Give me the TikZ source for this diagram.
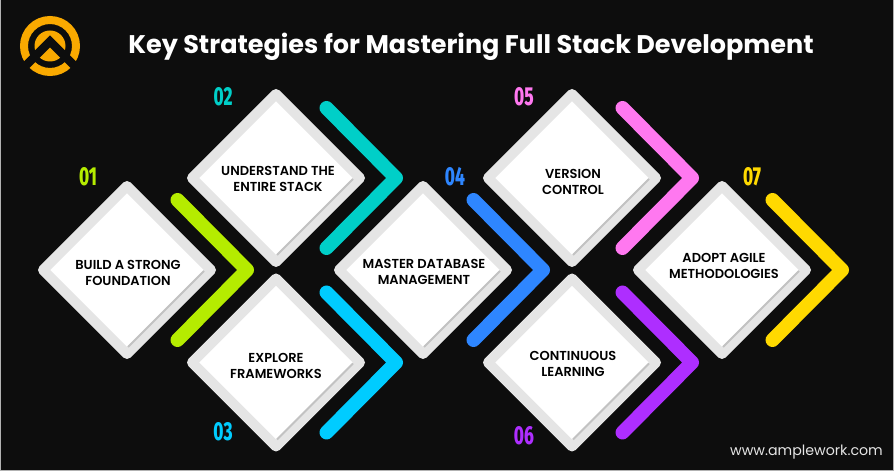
\documentclass[tikz,border=0pt]{standalone}
\usepackage{fontspec}
\setmainfont{Poppins}
\newfontfamily\cardfont{Poppins SemiBold}
\newfontfamily\numfont{Fira Sans ExtraBold}
\usetikzlibrary{shapes.geometric}
\definecolor{pagebg}{HTML}{0D0D0D}
\definecolor{cardrim}{HTML}{E5E5E5}
\definecolor{cardshade}{HTML}{C2C2C2}
\definecolor{logoamber}{HTML}{F9A900}
\definecolor{limec}{HTML}{B5EC00}
\definecolor{tealc}{HTML}{00CFC8}
\definecolor{skyc}{HTML}{00CCFF}
\definecolor{bluec}{HTML}{2E86FF}
\definecolor{pinkc}{HTML}{FF78F0}
\definecolor{purplec}{HTML}{AE2EFF}
\definecolor{yellowc}{HTML}{FFD900}
\newcommand{\chevron}[2]{\draw[chevronline,#2] ([shift={(50.5,70)}]#1.center) -- ([shift={(120,0)}]#1.center) -- ([shift={(50.5,-70)}]#1.center);}
\newcommand{\cardshadow}[1]{\draw[cardshadeline] ([xshift=-7pt,yshift=-1pt]#1.east) -- ([xshift=1pt,yshift=7pt]#1.south);}
\begin{document}
\begin{tikzpicture}[x=1pt,y=1pt,
    card/.style={diamond,aspect=1,minimum size=168pt,inner sep=0pt,outer sep=0pt,fill=white,draw=cardrim,line width=10pt,line join=round},
    cardlabel/.style={align=center,inner sep=0pt,text=black,font=\cardfont\fontsize{13}{16}\selectfont},
    cardshadeline/.style={draw=cardshade,line width=1.8pt},
    chevronline/.style={line width=14pt,line cap=round,line join=round},
    numlabel/.style={inner sep=0pt,font=\numfont\fontsize{26}{26}\selectfont,xscale=0.66,transform shape}]
    \useasboundingbox (0,0) rectangle (894,471);
    \fill[gray!60] (0,0) rectangle (894,471);
    \fill[pagebg] (1,1) rectangle (893,471);

    % logo
    \draw[logoamber,line width=8pt] (50,425) circle (26);
    \fill[logoamber] (50,425) circle (15.5);
    \draw[pagebg,line width=8.5pt,miter limit=10] (23,402.7) -- (50,429.7) -- (77,402.7);

    \node[font=\bfseries\fontsize{25.5}{25.5}\selectfont,text=white,inner sep=0pt] (title) at (471,424.5) {Key Strategies for Mastering Full Stack Development};

    % cards
    \node[card] (build) at (127,201) {};
    \node[card] (stack) at (276,293) {};
    \node[card] (frameworks) at (276,108.5) {};
    \node[card] (database) at (423,201) {};
    \node[card] (version) at (572,293) {};
    \node[card] (learning) at (572,108.5) {};
    \node[card] (agile) at (722,201) {};

    \cardshadow{build}
    \cardshadow{stack}
    \cardshadow{frameworks}
    \cardshadow{database}
    \cardshadow{version}
    \cardshadow{learning}
    \cardshadow{agile}

    \chevron{build}{limec}
    \chevron{stack}{tealc}
    \chevron{frameworks}{skyc}
    \chevron{database}{bluec}
    \chevron{version}{pinkc}
    \chevron{learning}{purplec}
    \chevron{agile}{yellowc}

    \node[cardlabel] (buildtext) at (128,198.5) {BUILD A STRONG\\FOUNDATION};
    \node[cardlabel] (stacktext) at (278,292) {UNDERSTAND THE\\ENTIRE STACK};
    \node[cardlabel] (frameworkstext) at (276,105.5) {EXPLORE\\FRAMEWORKS};
    \node[cardlabel] (databasetext) at (424,199.5) {MASTER DATABASE\\MANAGEMENT};
    \node[cardlabel] (versiontext) at (573,289.5) {VERSION\\CONTROL};
    \node[cardlabel] (learningtext) at (573,107.5) {CONTINUOUS\\LEARNING};
    \node[cardlabel] (agiletext) at (724,205.5) {ADOPT AGILE\\METHODOLOGIES};

    \node[numlabel,text=limec] (num01) at (88,294) {01};
    \node[numlabel,text=tealc] (num02) at (223,374) {02};
    \node[numlabel,text=skyc] (num03) at (223,39) {03};
    \node[numlabel,text=bluec] (num04) at (455,294) {04};
    \node[numlabel,text=pinkc] (num05) at (524,374) {05};
    \node[numlabel,text=purplec] (num06) at (524,35) {06};
    \node[numlabel,text=yellowc] (num07) at (752,294) {07};

    \node[text=white!90!black,inner sep=0pt,font=\fontsize{14.2}{14.2}\selectfont] (site) at (806.5,19) {www.amplework.com};
\end{tikzpicture}
\end{document}
